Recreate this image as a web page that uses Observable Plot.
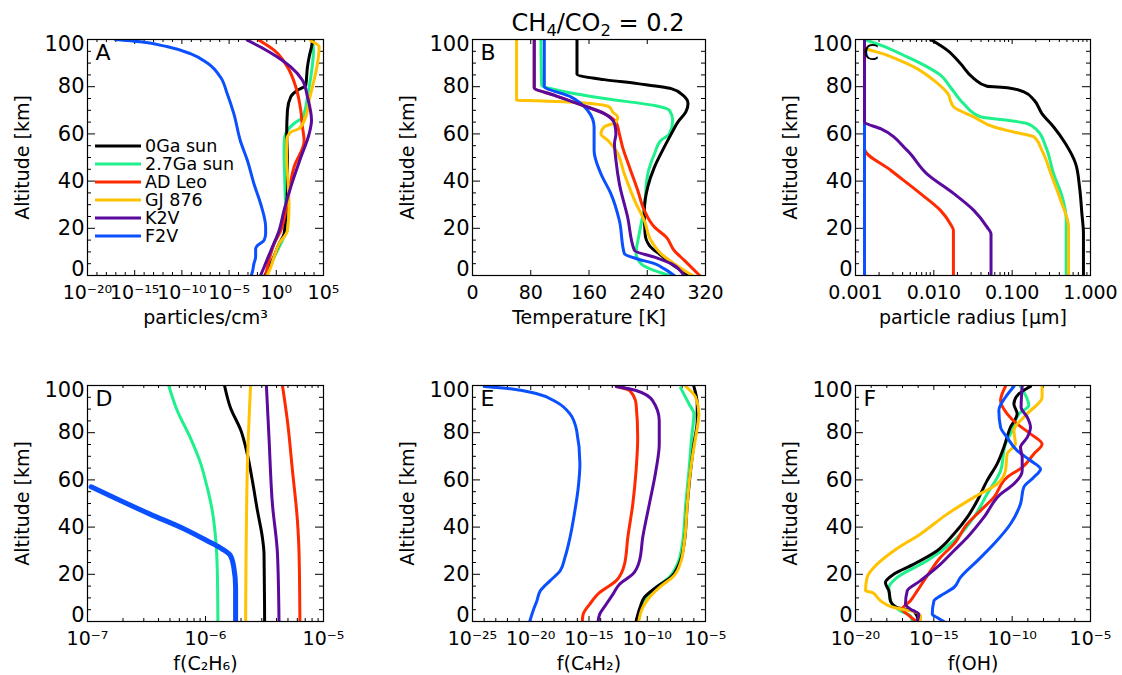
<!DOCTYPE html>
<html><head><meta charset="utf-8">
<script src="https://cdn.jsdelivr.net/npm/d3@7"></script>
<script src="https://cdn.jsdelivr.net/npm/@observablehq/plot@0.6"></script>
<style>
body{margin:0;background:#fff;}
#fig{position:relative;width:1122px;height:675px;overflow:hidden;font-family:"DejaVu Sans",sans-serif;color:#000;}
.panel{position:absolute;}
#title{position:absolute;left:448px;width:300px;top:8px;text-align:center;font-size:24px;line-height:30px;white-space:nowrap;}
#title sub{font-size:0.68em;vertical-align:-0.3em;line-height:0;}
#legend{position:absolute;left:95px;top:137px;font-size:17.5px;}
#legend .row{display:flex;align-items:center;height:18px;}
#legend svg{margin-right:4px;}
</style></head><body><div id="fig"></div>
<script>
// ---- series ----
const seriesNames = ["0Ga sun", "2.7Ga sun", "AD Leo", "GJ 876", "K2V", "F2V"];
const seriesColors = ["#000000", "#1ef08c", "#ff2a00", "#ffc200", "#5a0a9c", "#0a50ff"];
const drawOrder = [1, 0, 2, 3, 5, 4];

// ---- panel A: particles/cm3, values as log10, pairs [altitude km, log10 value] ----
const panelA = [
  [[0,-1.2],[6.4,-0.42],[13.4,0.29],[17.7,0.82],[24.8,1.0],[37.5,1.18],[50.2,1.18],[60.1,1.1],[70,1.18],[75.7,1.53],[78.5,2.24],[80.6,3.12],[88.4,3.3],[92.6,3.48],[96.9,3.73],[99.4,3.83]],
  [[0,-1.2],[3.5,-0.75],[9.2,-0.06],[14.9,0.64],[20.5,1.18],[29,1.0],[41.7,0.89],[53,0.82],[58.7,0.89],[61.5,1.18],[64.4,1.88],[67,2.77],[71.4,3.12],[75.7,3.3],[84,3.65],[95.5,3.94],[99.4,3.83]],
  [[0,-1.13],[6.4,-0.77],[13.4,-0.24],[19,0.47],[31.8,1.18],[46,1.88],[57,2.95],[63,2.77],[70,2.59],[80,2.06],[88.4,1.18],[95.5,-0.24],[99.7,-1.83]],
  [[0,-0.96],[3.5,-0.59],[7.8,-0.24],[13.4,0.29],[19.1,1.18],[29,1.35],[38.9,1.25],[50.2,1.1],[57.3,1.1],[60.8,1.53],[62.2,2.41],[67.2,3.12],[74.3,3.48],[80,3.83],[89.8,4.36],[96.9,4.54],[99.4,3.65]],
  [[0,-1.67],[3.5,-1.3],[7,-0.95],[12,-0.42],[19,0.29],[27.6,0.82],[37.5,1.53],[50,2.59],[60,3.48],[65.8,3.73],[75.7,3.3],[82.7,2.77],[88.4,1.53],[92.6,0.11],[96,-1.3],[99.7,-3.07]],
  [[0,-2.65],[1.4,-2.54],[5,-2.37],[7.8,-2.19],[11.3,-2.19],[12.7,-2.0],[14.9,-1.3],[17.7,-1.13],[20.5,-1.13],[30.4,-1.66],[38.9,-2.37],[48.8,-3.07],[57,-3.8],[68.6,-4.5],[77,-5.2],[84,-5.9],[90,-7.3],[94,-9.1],[97,-11.6],[99,-14.4],[100,-17.06]]
];
// ---- panel B: temperature [K] ----
const panelB = [
  [[0,298],[5,273],[8.5,259],[12.7,243],[17.7,237],[27.6,236],[37.5,240.7],[46,250],[53,261],[60,273],[65,282],[69.3,293],[72.8,296],[76.4,289],[79.2,273],[81.3,227],[83,181],[85.3,143.5],[100,143.5]],
  [[0,272.4],[2.1,250],[5,231.5],[9.2,224.7],[17.7,229],[29,236],[43,240.7],[51.6,250],[57.3,259],[60,270.5],[65.8,275],[70,270.5],[72,250],[75,181],[78.5,117],[80.6,95],[100,94]],
  [[0,312],[6.4,291],[10.6,277],[16.3,266],[20.5,250],[27.6,236],[36,227],[46,215.5],[54.5,206],[60,201.7],[65,197],[68.6,181],[72.8,144.4],[76.4,112],[79.6,84.8],[100,84.8]],
  [[0,302],[5,277],[9.2,259],[14.9,245],[23.3,236],[30.4,224.7],[43,208.6],[53,197],[57.3,185.7],[60,176.5],[63,181],[65,197],[67.2,199.4],[69.3,192.6],[71.4,188],[73.5,135],[74,89],[74.3,60.5],[100,60.5]],
  [[0,290.5],[5,272.8],[7.8,250],[10.6,222.4],[24.8,213],[38.9,201.7],[48.8,197],[55.9,195],[60,197],[64.4,195],[68.6,181],[72.8,144.4],[76.4,112],[79.6,84.8],[100,84.8]],
  [[0,277],[2.8,263.6],[5,250],[7,227],[9.2,208.6],[23.3,201.7],[34.7,190],[43,176.5],[53,167],[63,167],[70,158],[75.7,135],[80.2,98.6],[100,98.6]]
];
// ---- panel C: particle radius [um], log10 ----
const panelC = [
  [[0,-0.09],[17.7,-0.09],[26.2,-0.11],[37.5,-0.14],[47.4,-0.19],[55.9,-0.32],[62.9,-0.47],[68.6,-0.62],[74.3,-0.72],[77.8,-0.85],[79.6,-1.06],[80.2,-1.32],[83.5,-1.49],[89.8,-1.66],[95.5,-1.83],[100,-2.04]],
  [[0,-0.31],[23.3,-0.31],[33.2,-0.36],[43,-0.47],[54.5,-0.57],[61.5,-0.68],[64.4,-0.81],[65.8,-1.06],[67.2,-1.4],[72.8,-1.62],[79.9,-1.79],[84.9,-1.915],[88.4,-2.085],[92.6,-2.34],[97.6,-2.68],[100,-2.885]],
  [[0,-1.75],[19.1,-1.75],[21.9,-1.79],[27.6,-1.915],[34.7,-2.17],[44.6,-2.55],[53.7,-2.885],[100,-2.885]],
  [[0,-0.28],[20.5,-0.28],[31.8,-0.38],[41.7,-0.49],[53,-0.62],[58.7,-0.72],[60.8,-0.98],[62.9,-1.23],[67.2,-1.49],[71.4,-1.745],[74.3,-1.79],[76.4,-1.81],[82.7,-2.0],[88.4,-2.255],[93.4,-2.6],[96.9,-2.885],[100,-2.885]],
  [[0,-1.27],[17.7,-1.27],[20.5,-1.32],[27.6,-1.49],[34.7,-1.745],[43,-2.085],[53,-2.34],[62.2,-2.68],[65,-2.885],[100,-2.885]],
  [[0,-2.885],[100,-2.885]]
];
// ---- panel D: f(C2H6), log10 ----
const panelD = [
  [[0,-5.499],[28.6,-5.504],[35.6,-5.518],[47,-5.56],[59.7,-5.603],[71,-5.646],[80.9,-5.7],[90.8,-5.79],[100,-5.839]],
  [[0,-5.895],[21.5,-5.9],[35.6,-5.915],[47,-5.943],[56.9,-5.986],[66.8,-6.04],[78,-6.13],[89.4,-6.24],[100,-6.312]],
  [[0,-5.2],[28.6,-5.207],[42.7,-5.221],[63.9,-5.263],[85.1,-5.306],[100,-5.348]],
  [[0,-5.66],[64,-5.646],[100,-5.618]],
  [[0,-5.377],[28.6,-5.39],[49.8,-5.433],[78,-5.462],[100,-5.484]],
  [[0,-5.745],[14.4,-5.745],[22.9,-5.76],[27.9,-5.788],[30.7,-5.858],[34.2,-5.986],[39.2,-6.18],[45.5,-6.47],[51.9,-6.75],[57.1,-6.97]]
];
// ---- panel E: f(C4H2), log10 ----
const panelE = [
  [[0,-10.96],[5.9,-10.62],[10.2,-10.25],[14.4,-9.26],[18.7,-7.98],[24.3,-7.27],[32.8,-6.84],[49.8,-6.56],[63.9,-6.28],[75.2,-6.0],[85.1,-5.71],[92.2,-5.71],[99.6,-6.0]],
  [[0,-10.87],[5.9,-10.53],[10.2,-10.11],[14.4,-9.26],[18.7,-8.12],[24.3,-7.41],[32.8,-6.99],[49.8,-6.7],[63.9,-6.42],[78,-6.19],[88,-6.0],[92.2,-6.42],[99,-7.13]],
  [[0,-15.58],[3.1,-15.5],[7.4,-14.93],[12.3,-14.08],[17.3,-12.66],[24.3,-11.95],[35.6,-11.67],[49.8,-11.24],[63.9,-10.96],[78,-10.82],[92.2,-10.96],[97.9,-11.52],[99.6,-12.66]],
  [[0,-10.73],[5.9,-10.39],[10.2,-9.82],[14.4,-8.97],[19.4,-7.7],[25,-7.13],[32.8,-6.84],[49.8,-6.56],[61.1,-6.36],[69.6,-6.13],[78,-5.85],[88,-5.57],[95,-5.85],[99.6,-6.7]],
  [[0,-14.22],[3.1,-14.08],[7.4,-13.51],[11.6,-12.94],[15.8,-12.38],[20.1,-11.24],[25.7,-10.67],[35.6,-10.39],[49.8,-9.82],[63.9,-9.26],[75.2,-8.97],[85.1,-8.97],[93.6,-9.54],[97.9,-10.96],[99.6,-12.66]],
  [[0,-20.09],[5.2,-19.75],[8.8,-19.47],[13,-19.18],[17.3,-18.33],[21.5,-17.48],[27.2,-17.06],[35.6,-16.63],[47,-16.21],[56.9,-15.92],[66.8,-15.78],[80.9,-16.06],[88,-16.63],[92.9,-17.77],[96.5,-19.47],[98.6,-21.74],[99.6,-24.0]]
];
// ---- panel F: f(OH), log10 ----
const panelF = [
  [[0,-15.96],[4.5,-16.28],[5.9,-17.34],[8.8,-17.77],[13,-17.87],[16.5,-18.09],[20.1,-17.55],[24.3,-16.28],[30,-14.79],[37.1,-13.72],[44.1,-12.87],[51.2,-12.23],[59.7,-11.6],[66.8,-10.96],[73.8,-10.53],[82.3,-10.11],[88,-9.68],[92.2,-9.89],[96.5,-9.57],[99.6,-8.83]],
  [[0,-16.38],[2.4,-16.49],[4.5,-17.13],[8.8,-17.77],[14.4,-17.87],[18.7,-17.34],[25.7,-15.43],[34.2,-13.72],[44.1,-12.45],[54,-11.6],[63.9,-10.74],[75.2,-10.43],[80.9,-10.0],[88,-9.57],[91.5,-8.94],[99.6,-9.47]],
  [[0,-16.1],[3.1,-16.7],[5.2,-17.02],[8.8,-16.49],[13,-16.06],[21.5,-15.21],[27.2,-14.57],[32.8,-13.72],[41.3,-12.87],[47,-12.02],[52.6,-11.17],[61.1,-10.32],[65.3,-9.36],[71,-8.62],[75.2,-8.09],[79.5,-8.83],[83.7,-9.68],[88,-10.32],[93.6,-10.74],[99.6,-10.43]],
  [[0,-15.85],[2.4,-15.85],[4.5,-16.49],[5.9,-17.55],[8.8,-18.4],[12.3,-18.94],[13,-19.36],[18.7,-19.26],[22.9,-18.83],[30,-17.55],[37.1,-15.85],[45.5,-14.15],[52.6,-12.45],[58.3,-10.96],[63.9,-10.43],[71,-10.32],[75.2,-9.79],[80.9,-9.89],[88,-9.04],[95,-8.09],[99.6,-8.09]],
  [[0,-16.06],[3.1,-15.96],[5.2,-16.49],[7.4,-16.81],[13,-16.7],[17.3,-15.85],[24.3,-14.57],[30,-13.72],[35.6,-12.87],[44.1,-11.81],[54,-10.74],[58.3,-9.89],[63.9,-9.36],[69.6,-9.36],[73.8,-9.47],[78,-9.04],[82.3,-8.83],[86.6,-9.04],[90.8,-9.43],[99.6,-9.36]],
  [[0,-14.36],[1.7,-14.79],[3.1,-15.1],[8.8,-14.99],[10.9,-14.57],[14.4,-13.72],[18.7,-13.3],[25.7,-12.23],[32.8,-11.17],[41.3,-10.11],[49.8,-9.47],[56.9,-9.26],[61.1,-8.62],[64.6,-8.19],[68.2,-8.83],[72.4,-9.68],[78,-10.32],[82.3,-10.74],[89.4,-10.85],[95,-10.43],[99.6,-9.89]]
];

// ---- axes ----
const yTicks = [0, 20, 40, 60, 80, 100];
const yTickLabels = ["0", "20", "40", "60", "80", "100"];
const A_xTicks = [1e-20, 1e-15, 1e-10, 1e-5, 1, 1e5];
const A_xTickLabels = ["10⁻²⁰", "10⁻¹⁵", "10⁻¹⁰", "10⁻⁵", "10⁰", "10⁵"];
const B_xTicks = [0, 80, 160, 240, 320];
const B_xTickLabels = ["0", "80", "160", "240", "320"];
const C_xTicks = [0.001, 0.01, 0.1, 1];
const C_xTickLabels = ["0.001", "0.010", "0.100", "1.000"];
const D_xTicks = [1e-7, 1e-6, 1e-5];
const D_xTickLabels = ["10⁻⁷", "10⁻⁶", "10⁻⁵"];
const E_xTicks = [1e-25, 1e-20, 1e-15, 1e-10, 1e-5];
const E_xTickLabels = ["10⁻²⁵", "10⁻²⁰", "10⁻¹⁵", "10⁻¹⁰", "10⁻⁵"];
const F_xTicks = [1e-20, 1e-15, 1e-10, 1e-5];
const F_xTickLabels = ["10⁻²⁰", "10⁻¹⁵", "10⁻¹⁰", "10⁻⁵"];
const yLabel = "Altitude [km]";
const xLabels = ["particles/cm³", "Temperature [K]", "particle radius [μm]", "f(C₂H₆)", "f(C₄H₂)", "f(OH)"];
const letters = ["A", "B", "C", "D", "E", "F"];
const titleHTML = "CH<sub>4</sub>/CO<sub>2</sub> = 0.2";

const yMinor = d3.range(5, 100, 5).filter(d => d % 20 !== 0);
const decades = (a, b) => d3.range(a, b).map(e => Math.pow(10, e));
const subDecades = (a, b) => d3.range(a, b).flatMap(e => d3.range(2, 10).map(k => k * Math.pow(10, e)));

const fig = document.getElementById("fig");

function panel(cfg) {
  const {data, log, domain, ticks, tickLabels, minor, xLabel, letter, left, top, width, height, mt, mb, ml, mr, blueWidth = 3} = cfg;
  const iw = width - ml - mr, ih = height - mt - mb;
  const marks = [];
  const XT = 5, XM = 3, YT = 8, YM = 4;
  marks.push(Plot.tickX(ticks, {x: d => d, insetTop: ih - XT, stroke: "#000"}));
  marks.push(Plot.tickX(ticks, {x: d => d, insetBottom: ih - XT, stroke: "#000"}));
  if (minor.length) {
    marks.push(Plot.tickX(minor, {x: d => d, insetTop: ih - XM, stroke: "#000"}));
    marks.push(Plot.tickX(minor, {x: d => d, insetBottom: ih - XM, stroke: "#000"}));
  }
  marks.push(Plot.tickY(yTicks, {y: d => d, insetRight: iw - YT, stroke: "#000"}));
  marks.push(Plot.tickY(yTicks, {y: d => d, insetLeft: iw - YT, stroke: "#000"}));
  marks.push(Plot.tickY(yMinor, {y: d => d, insetRight: iw - YM, stroke: "#000"}));
  marks.push(Plot.tickY(yMinor, {y: d => d, insetLeft: iw - YM, stroke: "#000"}));
  for (const i of drawOrder) {
    const rows = data[i].map(([alt, v]) => ({alt, v: log ? Math.pow(10, v) : v}));
    rows.sort((a, b) => a.alt - b.alt);
    marks.push(Plot.line(rows, {x: "v", y: "alt", stroke: seriesColors[i], strokeWidth: i === 5 ? blueWidth : 3, curve: "monotone-y", clip: true}));
  }
  marks.push(Plot.frame({stroke: "#000", strokeWidth: 1.2}));
  marks.push(Plot.text(ticks, {x: d => d, text: (d, i) => tickLabels[i], frameAnchor: "bottom", lineAnchor: "top", dy: 10, fontSize: 19}));
  const yi = yTicks.map((d, i) => i);
  marks.push(Plot.text(yi.slice(1, -1), {y: i => yTicks[i], text: i => yTickLabels[i], frameAnchor: "left", textAnchor: "end", dx: -3, fontSize: 21}));
  marks.push(Plot.text([0], {y: i => yTicks[i], text: i => yTickLabels[i], frameAnchor: "left", textAnchor: "end", dx: -3, dy: -6, fontSize: 21}));
  marks.push(Plot.text([yTicks.length - 1], {y: i => yTicks[i], text: i => yTickLabels[i], frameAnchor: "left", textAnchor: "end", dx: -3, dy: 5, fontSize: 21}));
  marks.push(Plot.text([xLabel], {frameAnchor: "bottom", lineAnchor: "top", dy: 35, fontSize: 19}));
  marks.push(Plot.text([yLabel], {frameAnchor: "left", textAnchor: "middle", rotate: -90, dx: -65, fontSize: 19}));
  marks.push(Plot.text([letter], {frameAnchor: "top-left", lineAnchor: "top", textAnchor: "start", dx: 8, dy: 5, fontSize: 22}));
  const svg = Plot.plot({
    width, height, marginTop: mt, marginBottom: mb, marginLeft: ml, marginRight: mr,
    x: {type: log ? "log" : "linear", domain, axis: null},
    y: {domain: [0, 100], axis: null},
    style: {fontFamily: "DejaVu Sans", fontSize: "19px", overflow: "visible", background: "none", color: "#000"},
    marks
  });
  svg.classList.add("panel");
  svg.style.left = left + "px";
  svg.style.top = top + "px";
  svg.style.position = "absolute";
  fig.appendChild(svg);
}

const top1 = {top: 0, height: 340, mt: 39, mb: 65};
const top2 = {top: 340, height: 335, mt: 45, mb: 54};
const colA = {left: 0, width: 374, ml: 87, mr: 51};
const colB = {left: 374, width: 374, ml: 98, mr: 43};
const colC = {left: 748, width: 374, ml: 107, mr: 32};

panel({...top1, ...colA, data: panelA, log: true, domain: [1e-20, 1e5], ticks: A_xTicks, tickLabels: A_xTickLabels, minor: decades(-19, 5).filter(v => !A_xTicks.includes(v)), xLabel: xLabels[0], letter: letters[0]});
panel({...top1, ...colB, data: panelB, log: false, domain: [0, 320], ticks: B_xTicks, tickLabels: B_xTickLabels, minor: [], xLabel: xLabels[1], letter: letters[1]});
panel({...top1, ...colC, data: panelC, log: true, domain: [0.001, 1], ticks: C_xTicks, tickLabels: C_xTickLabels, minor: subDecades(-3, 0), xLabel: xLabels[2], letter: letters[2]});
panel({...top2, ...colA, data: panelD, log: true, domain: [1e-7, 1e-5], ticks: D_xTicks, tickLabels: D_xTickLabels, minor: subDecades(-7, -5), xLabel: xLabels[3], letter: letters[3], blueWidth: 5});
panel({...top2, ...colB, data: panelE, log: true, domain: [1e-25, 1e-5], ticks: E_xTicks, tickLabels: E_xTickLabels, minor: decades(-24, -5).filter(v => !E_xTicks.includes(v)), xLabel: xLabels[4], letter: letters[4]});
panel({...top2, ...colC, data: panelF, log: true, domain: [1e-20, 1e-5], ticks: F_xTicks, tickLabels: F_xTickLabels, minor: decades(-19, -5).filter(v => !F_xTicks.includes(v)), xLabel: xLabels[5], letter: letters[5]});

const title = document.createElement("div");
title.id = "title";
title.innerHTML = titleHTML;
fig.appendChild(title);

const legend = document.createElement("div");
legend.id = "legend";
seriesNames.forEach((name, i) => {
  const row = document.createElement("div");
  row.className = "row";
  row.innerHTML = `<svg width="46" height="18"><line x1="0" x2="46" y1="9" y2="9" stroke="${seriesColors[i]}" stroke-width="3"/></svg><span>${name}</span>`;
  legend.appendChild(row);
});
fig.appendChild(legend);
</script>
</body></html>
